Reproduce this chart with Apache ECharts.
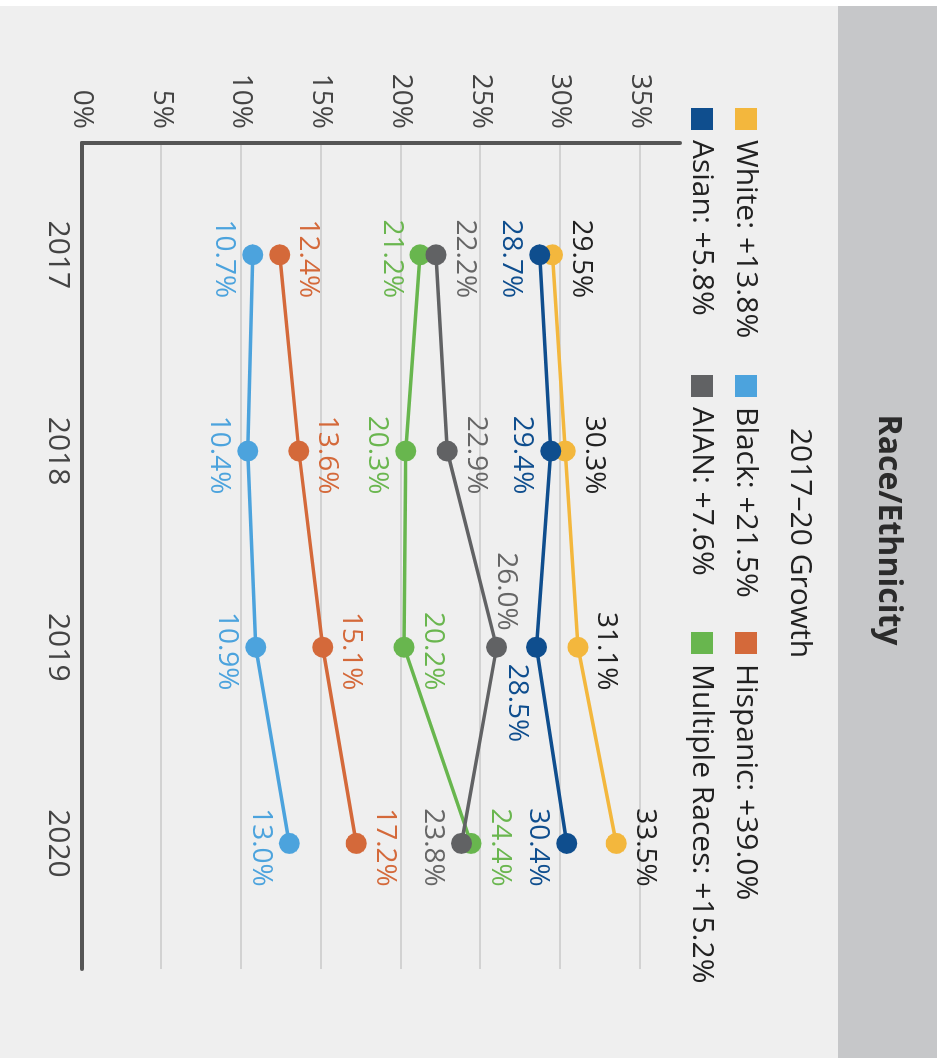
<!DOCTYPE html>
<html>
<head>
<meta charset="utf-8">
<script src="https://cdn.jsdelivr.net/npm/echarts@6/dist/echarts.min.js"></script>
<style>
html,body{margin:0;padding:0;background:#ffffff;overflow:hidden;width:942px;height:1058px;}
#chart{position:absolute;left:0;top:0;width:1058px;height:942px;transform-origin:0 0;transform:translate(942px,0) rotate(90deg);}
</style>
</head>
<body>
<div id="chart"></div>
<script>
// ---- data ----
var years = [2017, 2018, 2019, 2020];
var seriesNames = ['White', 'Black', 'Hispanic', 'Asian', 'AIAN', 'Multiple Races'];
var white = [29.5, 30.3, 31.1, 33.5];
var black = [10.7, 10.4, 10.9, 13.0];
var hispanic = [12.4, 13.6, 15.1, 17.2];
var asian = [28.7, 29.4, 28.5, 30.4];
var aian = [22.2, 22.9, 26.0, 23.8];
var multiple = [21.2, 20.3, 20.2, 24.4];
var growth = [13.8, 21.5, 39.0, 5.8, 7.6, 15.2];
var yTicks = [0, 5, 10, 15, 20, 25, 30, 35];

// ---- styling ----
var FONT = '"Open Sans", "Noto Sans", sans-serif';
var colors = {
  'White': '#f3b73d', 'Black': '#4ca3dd', 'Hispanic': '#d4693a',
  'Asian': '#0f4e8e', 'AIAN': '#616264', 'Multiple Races': '#68b64e'
};
var labelColors = {
  'White': '#222222', 'Black': '#4ca3dd', 'Hispanic': '#d4693a',
  'Asian': '#0f4e8e', 'AIAN': '#666666', 'Multiple Races': '#6ab64f'
};
var labelSides = {
  'White': ['top', 'top', 'top', 'top'],
  'Black': ['bottom', 'bottom', 'bottom', 'bottom'],
  'Hispanic': ['top', 'top', 'top', 'top'],
  'Asian': ['bottom', 'bottom', 'right', 'bottom'],
  'AIAN': ['top', 'top', 'left', 'bottom'],
  'Multiple Races': ['bottom', 'bottom', 'top', 'top']
};
var labelShift = {
  'Asian': [null, null, [0, 20], null],
  'AIAN': [null, null, [0, -9], null]
};
var values = {
  'White': white, 'Black': black, 'Hispanic': hispanic,
  'Asian': asian, 'AIAN': aian, 'Multiple Races': multiple
};
var drawOrder = ['White', 'Black', 'Hispanic', 'Multiple Races', 'Asian', 'AIAN'];

function buildSeries(name) {
  var vals = values[name];
  var data = years.map(function (yr, i) {
    var side = labelSides[name][i];
    var sh = labelShift[name] && labelShift[name][i];
    var off = sh ? sh : (side === 'top' || side === 'bottom' ? [4, 0] : [0, 0]);
    return {
      value: [yr, vals[i]],
      label: { position: side, offset: off, distance: side === 'left' || side === 'right' ? 6 : 4 }
    };
  });
  return {
    name: name,
    type: 'line',
    data: data,
    symbol: 'circle',
    symbolSize: 21,
    color: colors[name],
    lineStyle: { width: 3.5, color: colors[name] },
    itemStyle: { color: colors[name] },
    label: {
      show: true,
      color: labelColors[name],
      fontFamily: FONT,
      fontSize: 28,
      lineHeight: 28,
      formatter: function (p) { return p.value[1].toFixed(1) + '%'; }
    },
    emphasis: { disabled: true },
    z: 3
  };
}

function legendFmt(name) {
  var g = growth[seriesNames.indexOf(name)];
  return name + ': +' + g.toFixed(1) + '%';
}

function legendCol(items, left) {
  return {
    orient: 'vertical',
    left: left,
    top: 181,
    padding: 0,
    itemGap: 14,
    itemWidth: 22,
    itemHeight: 22,
    icon: 'rect',
    data: items,
    formatter: legendFmt,
    textStyle: { fontFamily: FONT, fontSize: 30, lineHeight: 30, color: '#222222', padding: [0, 0, 0, 5] }
  };
}

var chart = echarts.init(document.getElementById('chart'), null, { width: 1058, height: 942 });

var option = {
  animation: false,
  backgroundColor: '#efefef',
  textStyle: { fontFamily: FONT },
  graphic: [
    { type: 'rect', silent: true, z: -10, shape: { x: 6, y: 5, width: 1052, height: 99 }, style: { fill: '#c6c7c9' } },
    { type: 'rect', silent: true, z: -9, shape: { x: 0, y: 0, width: 6, height: 942 }, style: { fill: '#ffffff' } },
    { type: 'rect', silent: true, z: -9, shape: { x: 0, y: 0, width: 1058, height: 5 }, style: { fill: '#ffffff' } }
  ],
  title: [
    {
      text: 'Race/Ethnicity', left: 530, top: 38, textAlign: 'center', padding: 0,
      textStyle: { fontFamily: FONT, fontSize: 32, lineHeight: 32, fontWeight: 'bold', color: '#2b2b2b' }
    },
    {
      text: '2017–20 Growth', left: 543, top: 127, textAlign: 'center', padding: 0,
      textStyle: { fontFamily: FONT, fontSize: 30, lineHeight: 30, fontWeight: 'normal', color: '#222222' }
    }
  ],
  legend: [
    legendCol(['White', 'Asian'], 108),
    legendCol(['Black', 'AIAN'], 375),
    legendCol(['Hispanic', 'Multiple Races'], 632)
  ],
  grid: { left: 143, right: 89, top: 262, bottom: 82, containLabel: false },
  xAxis: {
    type: 'value',
    min: 2016.43,
    max: 2020.64,
    axisLine: { show: true, lineStyle: { color: '#555555', width: 4 } },
    axisTick: { show: false },
    splitLine: { show: false },
    axisLabel: {
      customValues: years,
      margin: 9,
      fontFamily: FONT, fontSize: 30, color: '#444444',
      formatter: function (v) { return String(v); }
    }
  },
  yAxis: {
    type: 'value',
    min: 0,
    max: 37.5,
    interval: 5,
    axisLine: { show: true, lineStyle: { color: '#555555', width: 4 } },
    axisTick: { show: false },
    splitLine: {
      show: true,
      showMaxLine: false,
      lineStyle: {
        width: 1.5,
        color: ['#c8c8c8', '#c8c8c8', '#c8c8c8', '#c8c8c8', '#c8c8c8', '#c8c8c8', '#c8c8c8', '#c8c8c8', 'rgba(0,0,0,0)']
      }
    },
    axisLabel: {
      customValues: yTicks,
      margin: 14,
      fontFamily: FONT, fontSize: 28, color: '#444444',
      formatter: function (v) { return v + '%'; }
    }
  },
  series: drawOrder.map(buildSeries)
};
chart.setOption(option);
</script>
</body>
</html>
